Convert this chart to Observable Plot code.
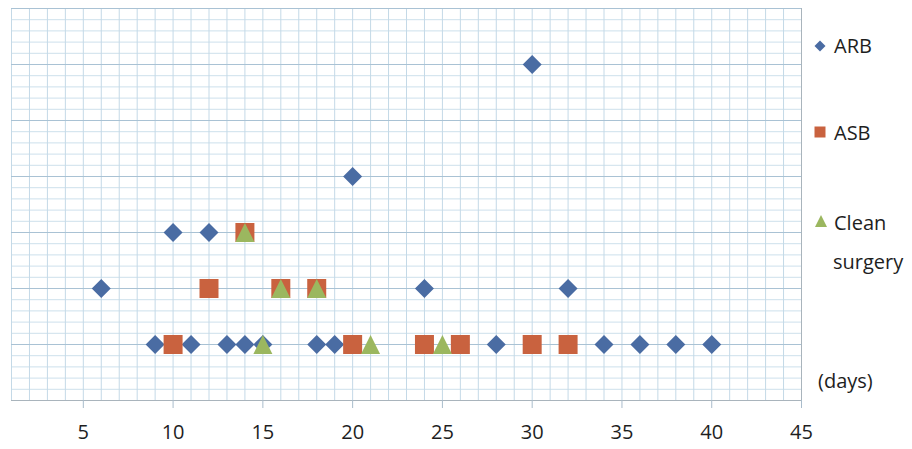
<!DOCTYPE html>
<html><head><meta charset="utf-8">
<script src="https://cdn.jsdelivr.net/npm/d3@7"></script>
<script src="https://cdn.jsdelivr.net/npm/@observablehq/plot@0.6"></script>
<style>
body{margin:0;background:#fff;}
#wrap{position:relative;width:912px;height:449px;}
#wrap svg{position:absolute;left:0;top:0;}
</style></head><body><div id="wrap"></div>
<script>
// ---- data ----
const arbDays   = [6, 9, 10, 11, 12, 13, 14, 15, 18, 19, 20, 24, 28, 30, 32, 34, 36, 38, 40];
const arbValues = [2, 1, 3, 1, 3, 1, 1, 1, 1, 1, 4, 2, 1, 6, 2, 1, 1, 1, 1];
const asbDays   = [10, 12, 14, 16, 18, 20, 24, 26, 30, 32];
const asbValues = [1, 2, 3, 2, 2, 1, 1, 1, 1, 1];
const cleanDays   = [14, 15, 16, 18, 21, 25];
const cleanValues = [3, 1, 2, 2, 1, 1];
const seriesNames = ["ARB", "ASB", "Clean surgery"];
const seriesColors = ["#4a6ca3", "#c9623f", "#9bb75f"];
const xTickLabels = [5, 10, 15, 20, 25, 30, 35, 40, 45];
const axisUnit = "(days)";

const toRows = (days, vals) => days.map((d, i) => ({day: d, value: vals[i]}));
const arb = toRows(arbDays, arbValues);
const asb = toRows(asbDays, asbValues);
const clean = toRows(cleanDays, cleanValues);

// custom symbols: r = half extent
const ext = size => Math.sqrt(size / Math.PI);
const diamond = {draw(c, s){const r = ext(s); c.moveTo(0,-r); c.lineTo(r,0); c.lineTo(0,r); c.lineTo(-r,0); c.closePath();}};
const square  = {draw(c, s){const r = ext(s); c.rect(-r,-r,2*r,2*r);}};
const triangle= {draw(c, s){const r = ext(s); c.moveTo(0,-r); c.lineTo(r,r); c.lineTo(-r,r); c.closePath();}};

const minorY = d3.range(0, 36).map(i => i / 5);
const majorY = d3.range(0, 8);
const gridDays = d3.range(1, 46);

const font = '"Open Sans", "Noto Sans", sans-serif';

const chart = Plot.plot({
  width: 912, height: 449,
  marginLeft: 11, marginRight: 111, marginTop: 8, marginBottom: 49,
  x: {domain: [1, 45]},
  y: {domain: [0, 7], axis: null},
  style: {fontFamily: font, fontSize: "20px", color: "#222", background: "#fff", overflow: "visible"},
  marks: [
    Plot.gridY(minorY, {stroke: "#cde0ec", strokeOpacity: 1}),
    Plot.gridX(gridDays, {stroke: "#c4d9e7", strokeOpacity: 1}),
    Plot.gridY(majorY, {stroke: "#a9c2d4", strokeOpacity: 1}),
    Plot.ruleY([0], {stroke: "#a9b4bc"}),
    Plot.ruleX([45], {stroke: "#a9b4bc"}),
    Plot.axisX(xTickLabels, {tickSize: 8, tickPadding: 16, stroke: "#a9bccb", fill: "#1e1e1e", fontSize: 20, label: null, tickFormat: d => String(d)}),
    Plot.dot(arb,   {x: "day", y: "value", symbol: diamond,  r: 9.5, fill: seriesColors[0], stroke: "none"}),
    Plot.dot(asb,   {x: "day", y: "value", symbol: square,   r: 9.5, fill: seriesColors[1], stroke: "none"}),
    Plot.dot(clean, {x: "day", y: "value", symbol: triangle, r: 9.5, fill: seriesColors[2], stroke: "none"})
  ]
});
document.getElementById("wrap").appendChild(chart);

// legend overlay
const lg = d3.select("#wrap").append("svg").attr("width", 912).attr("height", 449)
  .style("font-family", font).style("font-size", "20px").style("pointer-events", "none");
const sym = (s, size) => { const p = d3.path(); s.draw(p, size); return p.toString(); };
const items = [
  {shape: diamond, color: seriesColors[0], cx: 820, cy: 46, r: 5.5, lines: [seriesNames[0]], ty: 53},
  {shape: square, color: seriesColors[1], cx: 820, cy: 132, r: 5.5, lines: [seriesNames[1]], ty: 140},
  {shape: triangle, color: seriesColors[2], cx: 821, cy: 221, r: 6, lines: seriesNames[2].split(" "), ty: 230}
];
items.forEach(it => {
  lg.append("path").attr("d", sym(it.shape, Math.PI * it.r * it.r))
    .attr("transform", `translate(${it.cx},${it.cy})`).attr("fill", it.color);
  it.lines.forEach((t, i) => lg.append("text").attr("x", i ? 833 : 834).attr("y", it.ty + i * 39)
    .attr("fill", "#1e1e1e").text(t));
});
lg.append("text").attr("x", 818).attr("y", 388).attr("fill", "#1e1e1e").text(axisUnit);
</script></body></html>
